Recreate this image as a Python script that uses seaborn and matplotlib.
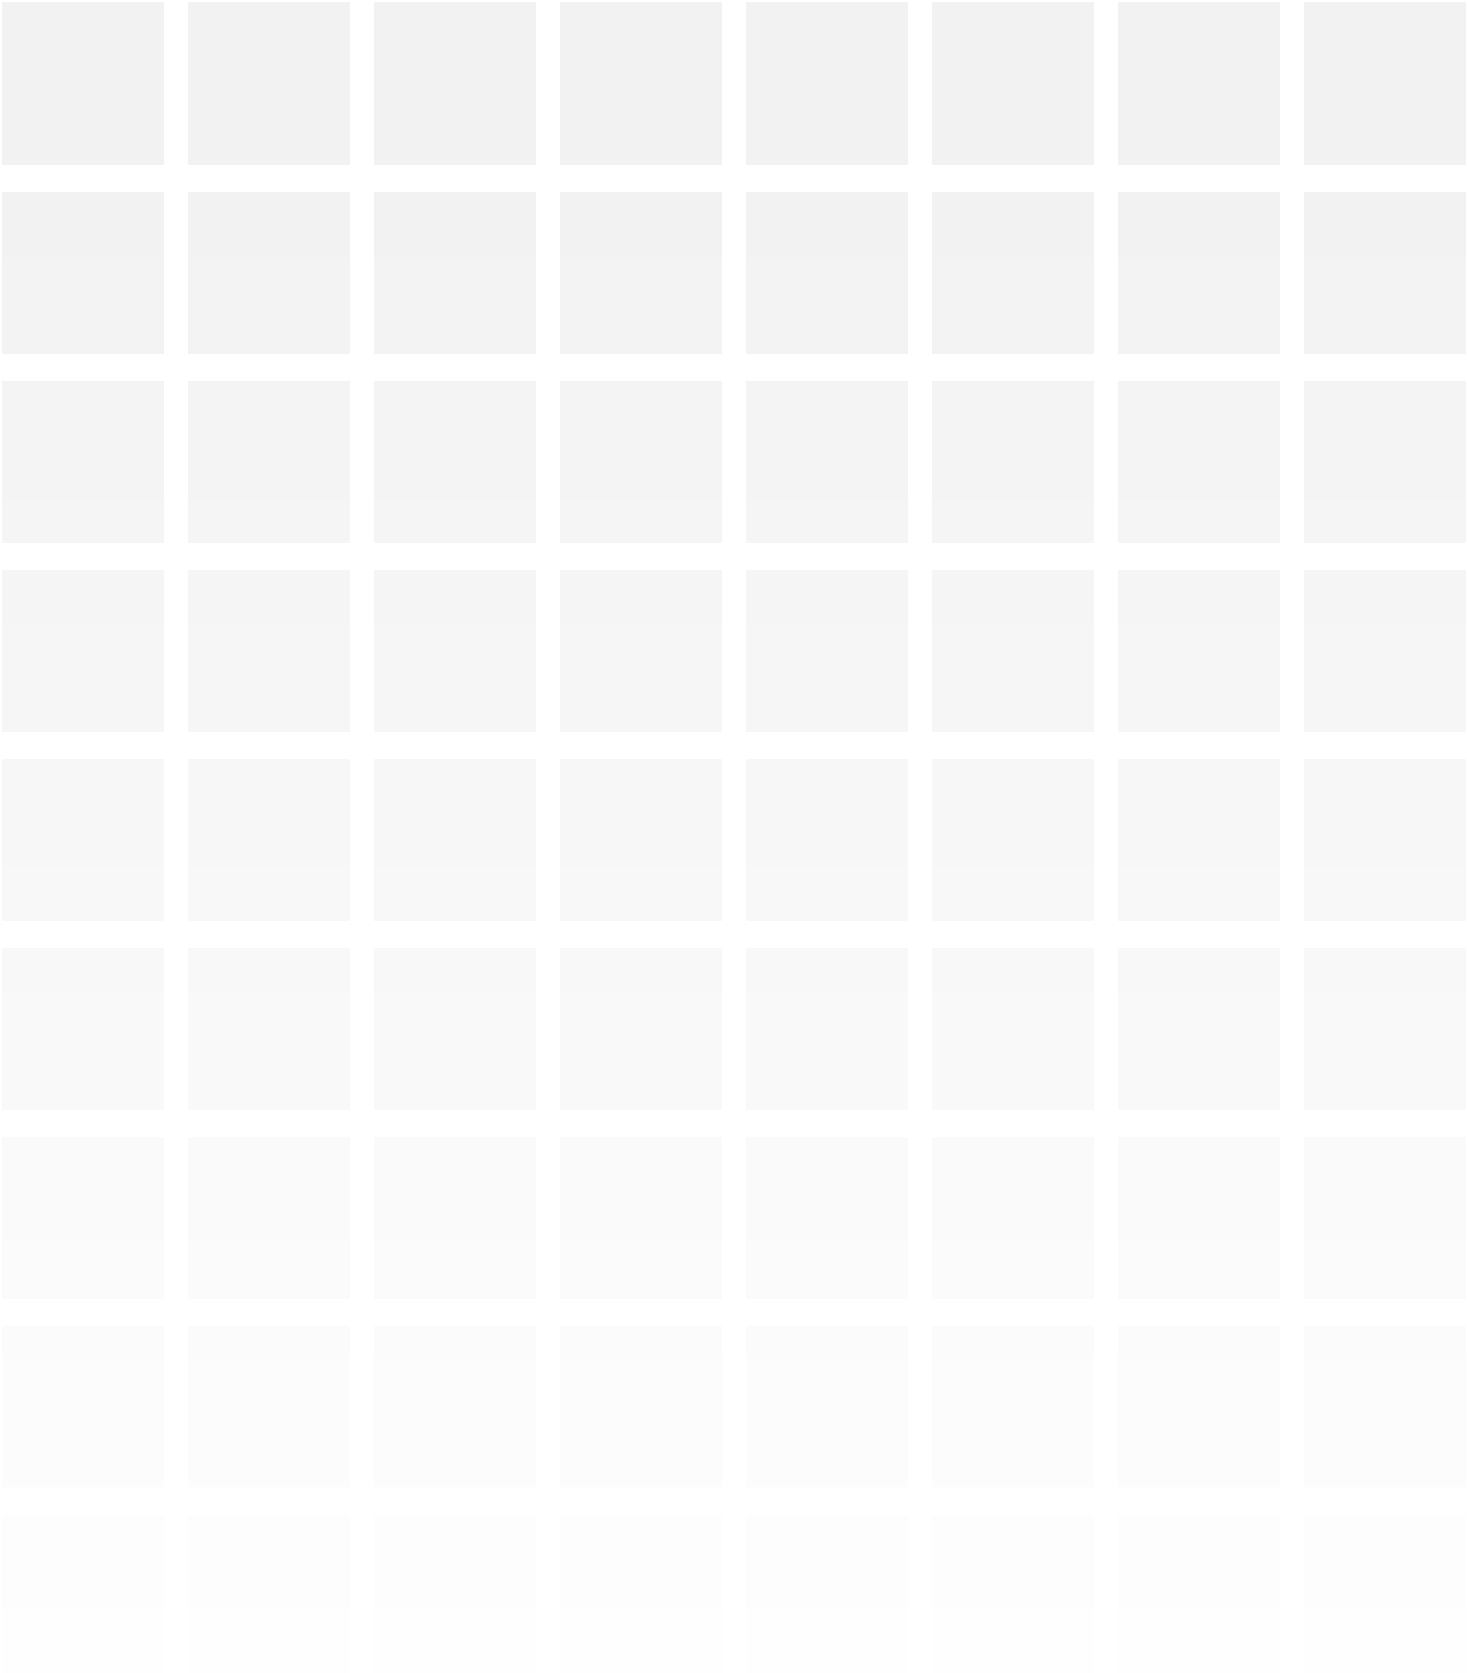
import numpy as np
import pandas as pd
import matplotlib
matplotlib.use("Agg")
import matplotlib.pyplot as plt
from matplotlib.colors import ListedColormap
from matplotlib.patches import Rectangle
import seaborn as sns

# Data: an 8 x 9 grid of placeholder cells, all with the same value
col_labels = ["C1", "C2", "C3", "C4", "C5", "C6", "C7", "C8"]
row_labels = ["R1", "R2", "R3", "R4", "R5", "R6", "R7", "R8", "R9"]
values = [
    [1, 1, 1, 1, 1, 1, 1, 1],
    [1, 1, 1, 1, 1, 1, 1, 1],
    [1, 1, 1, 1, 1, 1, 1, 1],
    [1, 1, 1, 1, 1, 1, 1, 1],
    [1, 1, 1, 1, 1, 1, 1, 1],
    [1, 1, 1, 1, 1, 1, 1, 1],
    [1, 1, 1, 1, 1, 1, 1, 1],
    [1, 1, 1, 1, 1, 1, 1, 1],
    [1, 1, 1, 1, 1, 1, 1, 1],
]

W, H, DPI = 1467, 1674, 100
fig = plt.figure(figsize=(W / DPI, H / DPI), dpi=DPI)
fig.patch.set_facecolor("white")

# axes placement in pixels (cell pitch 186 x 189, gaps 24 x 27)
x0, pitch_x, gap_x = -10.0, 186.0, 24.0
pitch_y, gap_y = 189.0, 27.0
top = 3 - gap_y / 2
ax_w = pitch_x * len(col_labels)
ax_h = pitch_y * len(row_labels)
bottom = H - (top + ax_h)
ax = fig.add_axes([x0 / W, bottom / H, ax_w / W, ax_h / H])

df = pd.DataFrame(values, index=row_labels, columns=col_labels)
sns.heatmap(df, ax=ax, cmap=ListedColormap(["#f2f2f2"]), cbar=False,
            linewidths=0, xticklabels=False, yticklabels=False)
for x in range(1, len(col_labels)):
    ax.axvline(x, color="white", linewidth=gap_x * 72 / DPI, zorder=5,
               antialiased=False)
for y in range(1, len(row_labels)):
    ax.axhline(y, color="white", linewidth=gap_y * 72 / DPI, zorder=5,
               antialiased=False)
ax.set_axis_off()

# outer margins (left 2 px, top 3 px, right 1 px)
for rect in [(0, 0, 2 / W, 1), (0, 1 - 3 / H, 1, 3 / H), (1 - 1 / W, 0, 1 / W, 1)]:
    fig.add_artist(Rectangle(rect[:2], rect[2], rect[3], transform=fig.transFigure,
                             facecolor="white", edgecolor="none", zorder=10))

# white fade from top to bottom
fy = np.linspace(0.0, 1.0, H)
alpha = np.clip((fy - 0.08) / 0.92, 0, 1) * 0.97
rgba = np.ones((H, 1, 4))
rgba[:, 0, 3] = alpha
axg = fig.add_axes([0, 0, 1, 1])
axg.imshow(rgba, aspect="auto", interpolation="bilinear")
axg.set_axis_off()

fig.savefig("out.png", dpi=DPI, facecolor="white")
